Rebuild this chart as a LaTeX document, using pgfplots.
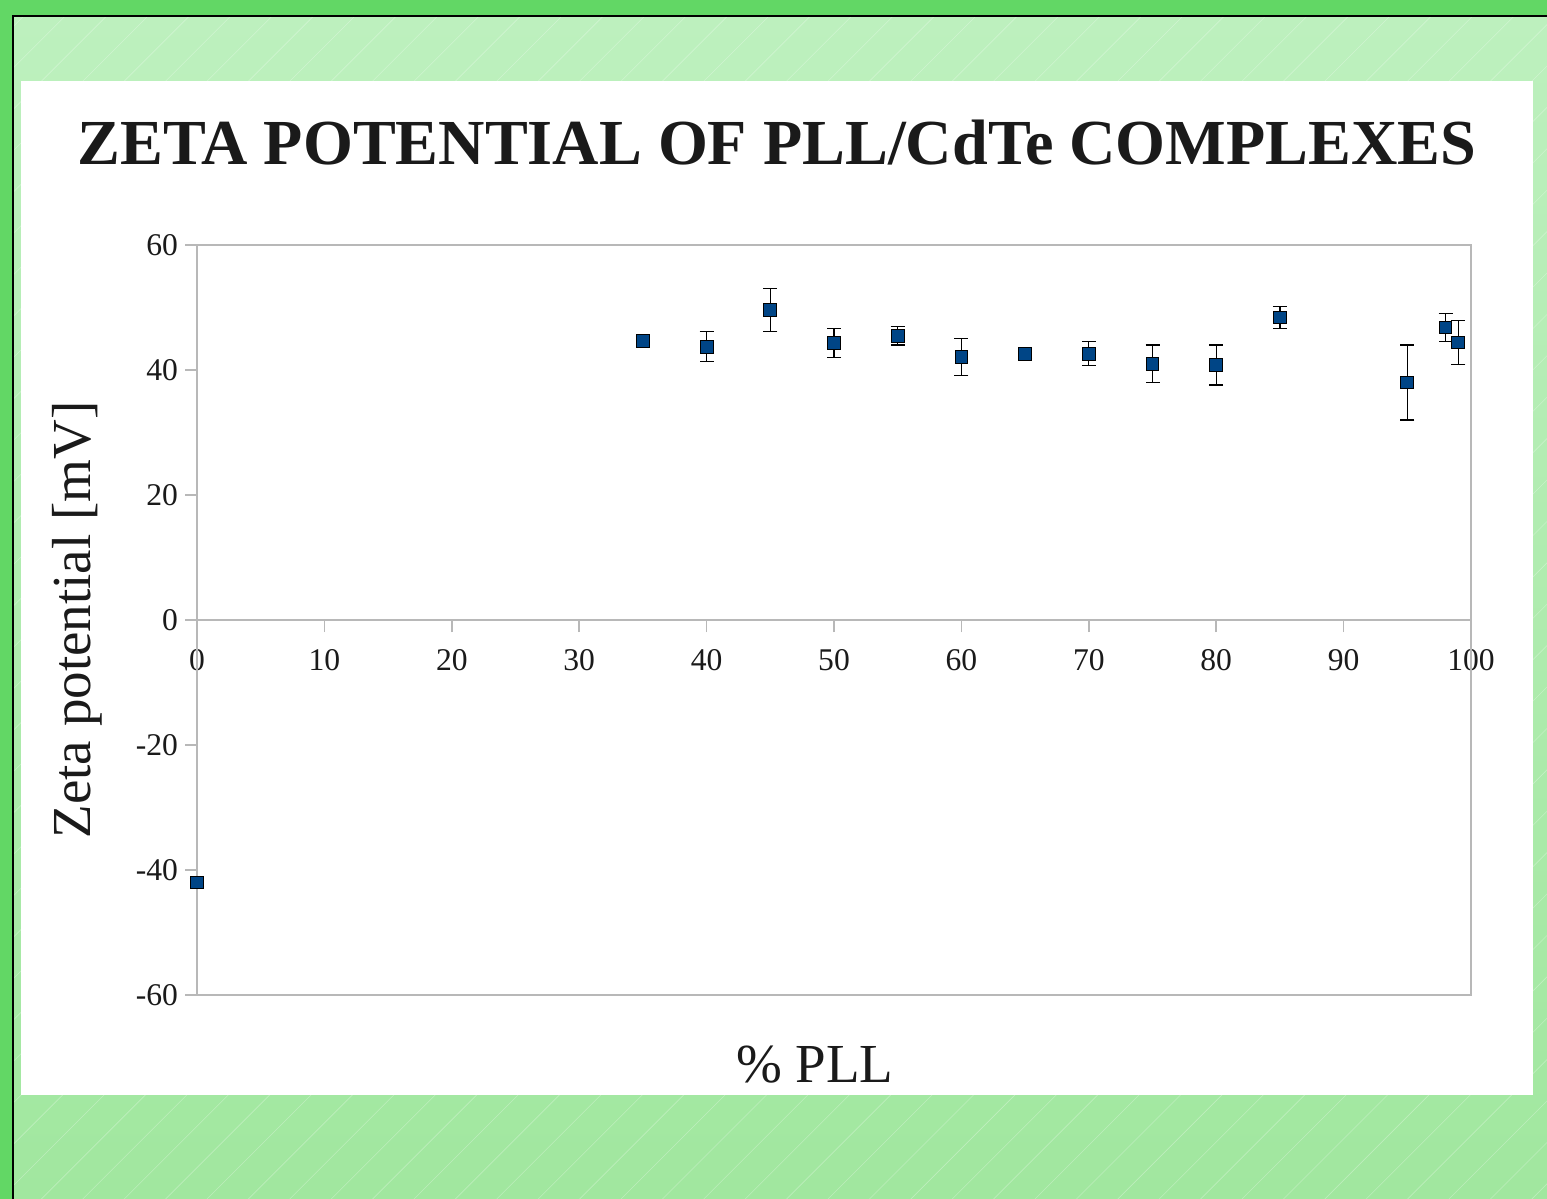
\documentclass[border=0pt]{standalone}
\usepackage{pgfplots}
\pgfplotsset{compat=1.18}
\usepackage{pgfplotstable}
\usepackage{fontspec}
\setmainfont{Liberation Serif}
\definecolor{outergreen}{HTML}{62D765}
\definecolor{lighttop}{HTML}{BDF0BE}
\definecolor{lightbot}{HTML}{A1E79F}
\definecolor{axgray}{HTML}{B8B8B8}
\definecolor{markblue}{HTML}{004586}
\definecolor{txt}{HTML}{1A1A1A}

\pgfplotstableread{
x y e
0 -42.0 0.6
35 44.6 0.8
40 43.7 2.4
45 49.6 3.5
50 44.3 2.3
55 45.5 1.5
60 42.1 3.0
65 42.6 0.7
70 42.6 1.9
75 41.0 3.0
80 40.8 3.2
85 48.4 1.7
95 38.0 6.0
98 46.8 2.3
99 44.4 3.5
}\zeta

\begin{document}
\begin{tikzpicture}
% background
\fill[outergreen] (0,0) rectangle (773.5pt,-599.5pt);
\useasboundingbox (0,0) rectangle (773.5pt,-599.5pt);
\shade[top color=lighttop, bottom color=lightbot] (6.25pt,-8pt) rectangle (773.5pt,-599.5pt);
\begin{scope}
\clip (6.25pt,-8pt) rectangle (773.5pt,-599.5pt);
\foreach \i in {-30,...,40} {
  \draw[white, opacity=0.3, line width=0.3pt] (\i*20.7pt,-599.5pt) -- ++(600pt,600pt);
}
\end{scope}
\draw[black, line width=1pt] (6.25pt,-599.5pt) -- (6.25pt,-8pt) -- (773.5pt,-8pt);
\fill[white] (10.5pt,-40.5pt) rectangle (766.5pt,-547.5pt);
\node[font=\fontsize{32.1}{37}\selectfont\bfseries, text=txt] at (388.5pt,-71.5pt) {ZETA POTENTIAL OF PLL/CdTe COMPLEXES};

\begin{axis}[
  at={(98.5pt,-497.5pt)}, anchor=south west,
  scale only axis, width=637pt, height=375pt,
  xmin=0, xmax=100, ymin=-60, ymax=60,
  axis x line=middle, axis y line=left,
  axis line style={draw=axgray, -, line width=0.8pt},
  xtick={0,10,...,100}, ytick={-60,-40,...,60},
  tick align=outside, major tick length=6pt,
  tick style={axgray, line width=0.8pt},
  hide obscured x ticks=false, hide obscured y ticks=false,
  /pgf/number format/assume math mode=true,
  ticklabel style={font=\fontsize{15.8}{18}\selectfont, text=txt},
  xticklabel style={yshift=-5pt},
  xlabel={\% PLL}, ylabel={Zeta potential [mV]},
  label style={font=\fontsize{27.5}{31}\selectfont, text=txt},
  xlabel style={at={(axis description cs:0.485,-0.093)}, anchor=center},
  ylabel style={at={(axis description cs:-0.094,0.5)}, anchor=center},
  clip=false,
]
\draw[axgray, line width=0.8pt] (rel axis cs:0,0) rectangle (rel axis cs:1,1);
\addplot[only marks, mark=square*, mark size=3.2pt,
  mark options={fill=markblue, draw=black, line width=0.5pt}]
  table[x=x, y=y] {\zeta};
\addplot[draw=none, mark=none, forget plot,
  error bars/.cd, y dir=both, y explicit,
  error bar style={draw=black, line width=0.6pt},
  error mark options={rotate=90, mark size=3.5pt, draw=black, line width=0.6pt}]
  table[x=x, y=y, y error=e] {\zeta};
\end{axis}
\end{tikzpicture}
\end{document}
